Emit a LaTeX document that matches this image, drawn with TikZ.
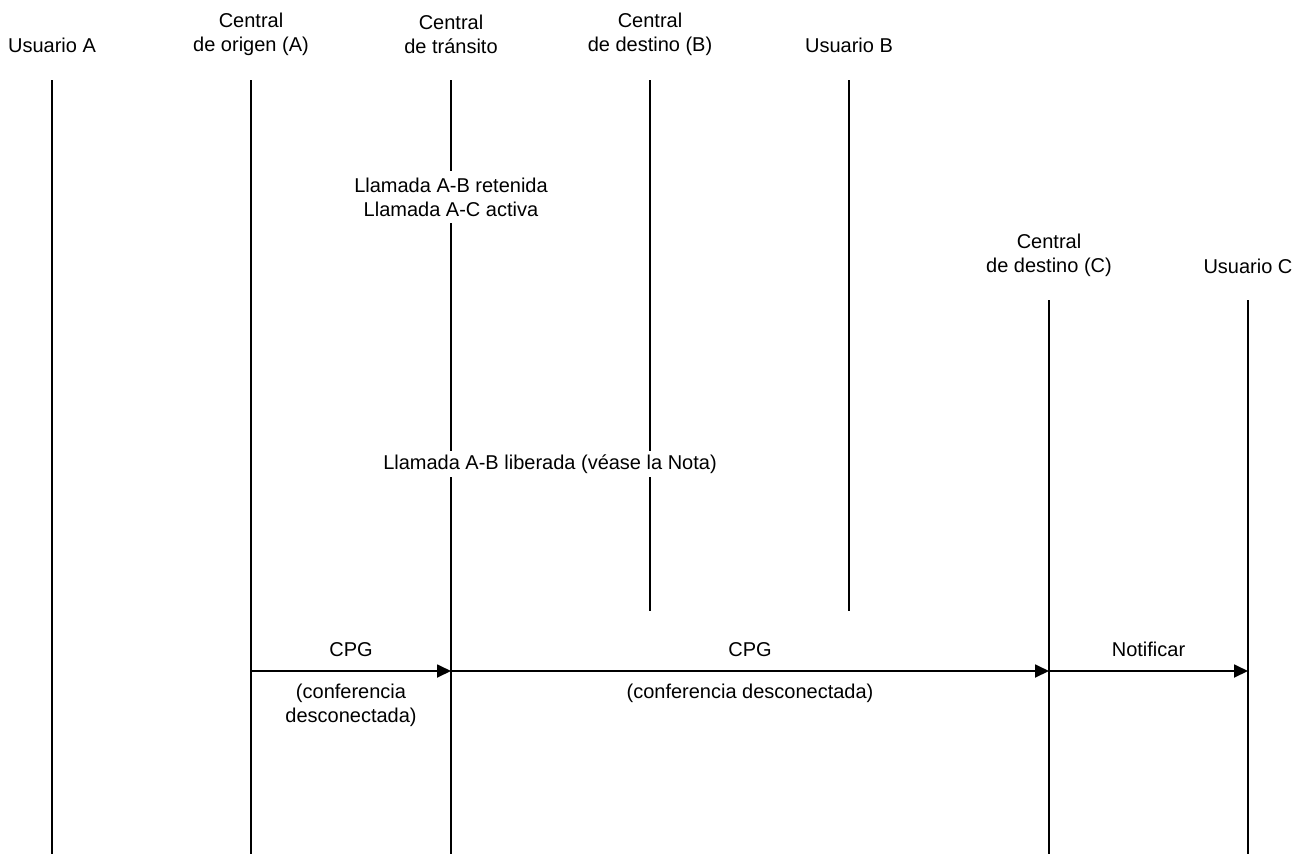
\documentclass[tikz,border=0pt]{standalone}
\usepackage{fontspec}
\setmainfont{Liberation Sans}
\usetikzlibrary{arrows.meta}
\usetikzlibrary{positioning}

\begin{document}
\begin{tikzpicture}[x=1pt,y=-1pt,line width=1.8pt,font=\fontsize{20}{24}\selectfont]
	\tikzstyle{party} = [align=center, inner sep=0pt]
	\tikzstyle{state} = [align=center, fill=white, inner xsep=4pt, inner ysep=7pt]
	\tikzstyle{msg} = [-{Triangle[length=14pt,width=13pt]}]
	\useasboundingbox (0,0) rectangle (1311,854);
	% ends of the lifelines
	\coordinate (ua_top) at (52,80);
	\coordinate (ua_bot) at (52,854);
	\coordinate (orig_top) at (251,80);
	\coordinate (orig_bot) at (251,854);
	\coordinate (trans_top) at (451,80);
	\coordinate (trans_bot) at (451,854);
	\coordinate (destb_top) at (650,80);
	\coordinate (destb_bot) at (650,611);
	\coordinate (ub_top) at (849,80);
	\coordinate (ub_bot) at (849,611);
	\coordinate (destc_top) at (1049,300);
	\coordinate (destc_bot) at (1049,854);
	\coordinate (uc_top) at (1248,300);
	\coordinate (uc_bot) at (1248,854);
	\draw (ua_top) -- (ua_bot);
	\draw (orig_top) -- (orig_bot);
	\draw (trans_top) -- (trans_bot);
	\draw (destb_top) -- (destb_bot);
	\draw (ub_top) -- (ub_bot);
	\draw (destc_top) -- (destc_bot);
	\draw (uc_top) -- (uc_bot);
	% headers
	\node [party](ua) at (52,45) {Usuario A};
	\node [party](orig) at (251,34) {Central\\de origen (A)};
	\node [party](trans) at (451,34) {Central\\de tr\'ansito};
	\node [party](destb) at (650,34) {Central\\de destino (B)};
	\node [party](ub) at (849,45) {Usuario B};
	\node [party](destc) at (1049,255) {Central\\de destino (C)};
	\node [party](uc) at (1248,266) {Usuario C};
	% states
	\node [state](held) at (451,197) {Llamada A-B retenida\\Llamada A-C activa};
	\node [state,inner ysep=4pt](freed) at (550,464) {Llamada A-B liberada (v\'ease la Nota)};
	% messages
	\coordinate (orig_msg) at (251,671);
	\coordinate (trans_msg) at (451,671);
	\coordinate (destc_msg) at (1049,671);
	\coordinate (uc_msg) at (1248,671);
	\draw [msg] (orig_msg) -- (trans_msg) node[midway,above=13pt,inner sep=0pt](cpg_a){CPG} node[midway,below=12pt,inner sep=0pt,align=center](conf_a){(conferencia\\desconectada)};
	\draw [msg] (trans_msg) -- (destc_msg) node[midway,above=13pt,inner sep=0pt](cpg_b){CPG} node[midway,below=12pt,inner sep=0pt](conf_b){(conferencia desconectada)};
	\draw [msg] (destc_msg) -- (uc_msg) node[midway,above=13pt,inner sep=0pt](notify){Notificar};
\end{tikzpicture}
\end{document}
